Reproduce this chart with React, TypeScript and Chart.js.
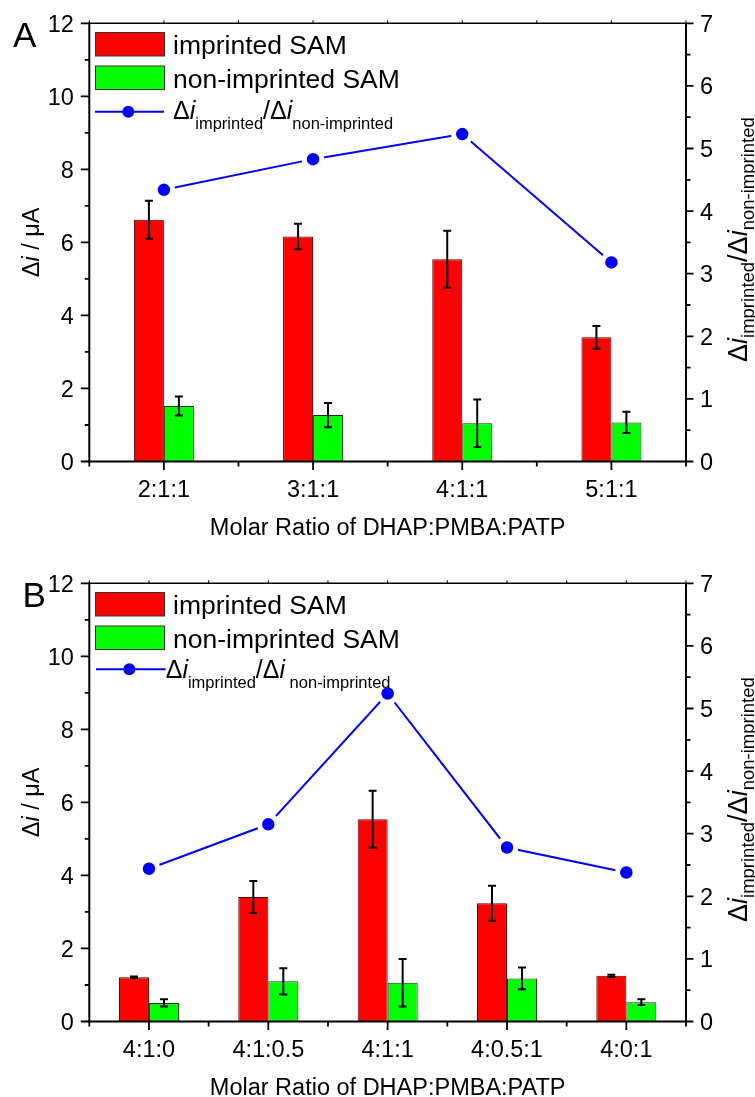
import React, { useEffect, useRef } from "react";
import { Chart, registerables } from "chart.js";
Chart.register(...registerables);

const FONT = "'Liberation Sans', Arial, Helvetica, sans-serif";

// ---- Panel A data ----
const catsA = ["2:1:1", "3:1:1", "4:1:1", "5:1:1"];
const imprintedA = [6.62, 6.16, 5.54, 3.4];
const imprintedErrA = [0.52, 0.35, 0.78, 0.31];
const nonImprintedA = [1.52, 1.27, 1.05, 1.07];
const nonImprintedErrA = [0.26, 0.33, 0.65, 0.29];
const ratioA = [4.34, 4.83, 5.23, 3.18];

// ---- Panel B data ----
const catsB = ["4:1:0", "4:1:0.5", "4:1:1", "4:0.5:1", "4:0:1"];
const imprintedB = [1.21, 3.41, 5.54, 3.24, 1.25];
const imprintedErrB = [0.02, 0.44, 0.78, 0.48, 0.03];
const nonImprintedB = [0.51, 1.1, 1.06, 1.18, 0.53];
const nonImprintedErrB = [0.1, 0.36, 0.65, 0.3, 0.08];
const ratioB = [2.44, 3.15, 5.24, 2.78, 2.38];

// ---- Axes ----
const leftTickValues = [0, 2, 4, 6, 8, 10, 12];
const leftMinorValues = [1, 3, 5, 7, 9, 11];
const rightTickValues = [0, 1, 2, 3, 4, 5, 6, 7];
const rightMinorValues = [0.5, 1.5, 2.5, 3.5, 4.5, 5.5, 6.5];
const xTitle = "Molar Ratio of DHAP:PMBA:PATP";
const legendImprinted = "imprinted SAM";
const legendNonImprinted = "non-imprinted SAM";

type Seg = { t: string; it?: boolean; sub?: boolean };

const ratioSegsA: Seg[] = [
  { t: "Δ" }, { t: "i", it: true }, { t: "imprinted", sub: true },
  { t: "/Δ" }, { t: "i", it: true }, { t: "non-imprinted", sub: true },
];
const ratioSegsB: Seg[] = [
  { t: "Δ" }, { t: "i", it: true }, { t: "imprinted", sub: true },
  { t: "/Δ" }, { t: "i", it: true }, { t: " non-imprinted", sub: true },
];
const axisSegs: Seg[] = [
  { t: "Δ" }, { t: "i", it: true }, { t: "imprinted", sub: true },
  { t: "/Δ" }, { t: "i", it: true }, { t: "non-imprinted", sub: true },
];
const leftTitleSegs: Seg[] = [{ t: "Δ" }, { t: "i", it: true }, { t: " / μA" }];

function richWidth(ctx: CanvasRenderingContext2D, segs: Seg[], main: number, sub: number) {
  let w = 0;
  for (const s of segs) {
    ctx.font = `${s.it ? "italic " : ""}${s.sub ? sub : main}px ${FONT}`;
    w += ctx.measureText(s.t).width;
  }
  return w;
}
function drawRich(ctx: CanvasRenderingContext2D, segs: Seg[], x: number, y: number, main: number, sub: number, subDy: number) {
  let cx = x;
  ctx.textAlign = "left";
  ctx.textBaseline = "alphabetic";
  for (const s of segs) {
    ctx.font = `${s.it ? "italic " : ""}${s.sub ? sub : main}px ${FONT}`;
    ctx.fillText(s.t, cx, s.sub ? y + subDy : y);
    cx += ctx.measureText(s.t).width;
  }
}

type PanelDef = {
  letter: string;
  letterX: number;
  cats: string[];
  imp: number[];
  impErr: number[];
  non: number[];
  nonErr: number[];
  ratio: number[];
  catPct: number;
  height: number;
  top: number;
  legLineX0: number;
  legLineX1: number;
  legLineY: number;
  legMarkX: number;
  legTextX: number;
  legTextY: number;
  ratioSegs: Seg[];
};

const panels: PanelDef[] = [
  {
    letter: "A", letterX: 13, cats: catsA, imp: imprintedA, impErr: imprintedErrA,
    non: nonImprintedA, nonErr: nonImprintedErrA, ratio: ratioA, catPct: 0.402,
    height: 560, top: 0, legLineX0: 95, legLineX1: 164, legLineY: 111.7, legMarkX: 128.3,
    legTextX: 173, legTextY: 119, ratioSegs: ratioSegsA,
  },
  {
    letter: "B", letterX: 22.5, cats: catsB, imp: imprintedB, impErr: imprintedErrB,
    non: nonImprintedB, nonErr: nonImprintedErrB, ratio: ratioB, catPct: 0.503,
    height: 537, top: 560, legLineX0: 96, legLineX1: 165.7, legLineY: 109.3, legMarkX: 129.3,
    legTextX: 165.7, legTextY: 118, ratioSegs: ratioSegsB,
  },
];

const PLOT_L = 89.3;
const PLOT_R = 686;
const PLOT_T = 23.3;
const PLOT_B = 461.5;

function makePlugin(p: PanelDef) {
  return {
    id: "decor" + p.letter,
    afterDatasetsDraw(chart: any) {
      const ctx: CanvasRenderingContext2D = chart.ctx;
      const ys = chart.scales.y;
      const sets: [number, number[]][] = [[1, p.impErr], [2, p.nonErr]];
      ctx.save();
      ctx.strokeStyle = "#000";
      ctx.lineWidth = 2;
      for (const [di, errs] of sets) {
        const meta = chart.getDatasetMeta(di);
        const vals = chart.data.datasets[di].data as number[];
        meta.data.forEach((el: any, i: number) => {
          const x = el.x;
          const y1 = ys.getPixelForValue(vals[i] + errs[i]);
          const y2 = ys.getPixelForValue(vals[i] - errs[i]);
          ctx.beginPath();
          ctx.moveTo(x, y1); ctx.lineTo(x, y2);
          ctx.moveTo(x - 4, y1); ctx.lineTo(x + 4, y1);
          ctx.moveTo(x - 4, y2); ctx.lineTo(x + 4, y2);
          ctx.stroke();
        });
      }
      ctx.restore();
    },
    afterDraw(chart: any) {
      const ctx: CanvasRenderingContext2D = chart.ctx;
      const { left: L, right: R, top: T, bottom: B } = chart.chartArea;
      const xs = chart.scales.x;
      const ys = chart.scales.y;
      const y2s = chart.scales.y2;
      ctx.save();
      ctx.strokeStyle = "#000";
      ctx.fillStyle = "#000";
      // frame
      ctx.lineWidth = 2;
      ctx.beginPath();
      ctx.moveTo(L, T); ctx.lineTo(L, B);
      ctx.moveTo(R, T); ctx.lineTo(R, B);
      ctx.moveTo(L - 1, B); ctx.lineTo(R + 1, B);
      ctx.stroke();
      ctx.lineWidth = 1.5;
      ctx.beginPath();
      ctx.moveTo(L, T); ctx.lineTo(R, T);
      ctx.stroke();
      // ticks
      ctx.lineWidth = 1.8;
      ctx.beginPath();
      for (const v of leftTickValues) {
        const py = ys.getPixelForValue(v);
        ctx.moveTo(L - 8.5, py); ctx.lineTo(L, py);
      }
      for (const v of leftMinorValues) {
        const py = ys.getPixelForValue(v);
        ctx.moveTo(L - 4.5, py); ctx.lineTo(L, py);
      }
      for (const v of rightTickValues) {
        const py = y2s.getPixelForValue(v);
        ctx.moveTo(R, py); ctx.lineTo(R + 7.5, py);
      }
      for (const v of rightMinorValues) {
        const py = y2s.getPixelForValue(v);
        ctx.moveTo(R, py); ctx.lineTo(R + 4.5, py);
      }
      for (let i = 0; i < p.cats.length; i++) {
        const px = xs.getPixelForValue(i);
        ctx.moveTo(px, B); ctx.lineTo(px, B + 8.5);
      }
      for (let i = 0; i <= p.cats.length; i++) {
        const px = xs.getPixelForValue(i - 0.5);
        ctx.moveTo(px, B); ctx.lineTo(px, B + 5);
      }
      ctx.stroke();
      ctx.lineWidth = 1;
      ctx.beginPath();
      for (let i = 0; i <= p.cats.length * 2; i++) {
        const px = xs.getPixelForValue(i / 2 - 0.5);
        ctx.moveTo(px, T); ctx.lineTo(px, T - 3);
      }
      ctx.stroke();

      // tick labels
      const TS = 23.5;
      ctx.font = `${TS}px ${FONT}`;
      ctx.textBaseline = "alphabetic";
      ctx.textAlign = "right";
      for (const v of leftTickValues) {
        ctx.fillText(String(v), L - 15.5, ys.getPixelForValue(v) + TS * 0.358);
      }
      ctx.textAlign = "left";
      for (const v of rightTickValues) {
        ctx.fillText(String(v), R + 14, y2s.getPixelForValue(v) + TS * 0.358);
      }
      ctx.textAlign = "center";
      p.cats.forEach((c, i) => {
        ctx.fillText(c, xs.getPixelForValue(i), B + 35.5);
      });
      ctx.fillText(xTitle, (L + R) / 2, B + 73.5);

      // left axis title
      ctx.save();
      const lw = richWidth(ctx, leftTitleSegs, 23.5, 23.5);
      ctx.translate(39, (T + B) / 2);
      ctx.rotate(-Math.PI / 2);
      drawRich(ctx, leftTitleSegs, -lw / 2, 0, 23.5, 23.5, 0);
      ctx.restore();

      // right axis title
      ctx.save();
      ctx.translate(747, 362);
      ctx.rotate(-Math.PI / 2);
      drawRich(ctx, axisSegs, 0, 0, 27, 18.5, 6.5);
      ctx.restore();

      // panel letter
      ctx.font = `35px ${FONT}`;
      ctx.textAlign = "left";
      ctx.fillText(p.letter, p.letterX, 46.7);

      // legend
      ctx.lineWidth = 1;
      ctx.strokeStyle = "#333";
      ctx.fillStyle = "#ff0000";
      ctx.fillRect(95, 32.5, 69, 23.5);
      ctx.strokeRect(95.5, 32.5, 69, 23.5);
      ctx.fillStyle = "#00ff00";
      ctx.fillRect(95, 66, 69, 23.5);
      ctx.strokeRect(95.5, 66, 69, 23.5);
      ctx.fillStyle = "#000";
      ctx.font = `26.5px ${FONT}`;
      ctx.fillText(legendImprinted, 173, 53.5);
      ctx.fillText(legendNonImprinted, 173, 87.5);
      ctx.strokeStyle = "#0000ff";
      ctx.lineWidth = 2;
      ctx.beginPath();
      ctx.moveTo(p.legLineX0, p.legLineY); ctx.lineTo(p.legLineX1, p.legLineY);
      ctx.stroke();
      ctx.fillStyle = "#0000ff";
      ctx.beginPath();
      ctx.arc(p.legMarkX, p.legLineY, 6, 0, Math.PI * 2);
      ctx.fill();
      ctx.fillStyle = "#000";
      drawRich(ctx, p.ratioSegs, p.legTextX, p.legTextY, 25, 16.5, 10);
      ctx.restore();
    },
  };
}

function PanelChart({ p }: { p: PanelDef }) {
  const ref = useRef<HTMLCanvasElement>(null);
  useEffect(() => {
    if (!ref.current) return;
    const chart = new Chart(ref.current, {
      type: "bar",
      data: {
        labels: p.cats,
        datasets: [
          {
            type: "line",
            label: "ratio",
            data: p.ratio,
            yAxisID: "y2",
            borderColor: "#0000ff",
            borderWidth: 2,
            pointRadius: 8.75,
            pointBorderWidth: 5,
            pointBackgroundColor: "#0000ff",
            pointBorderColor: "#ffffff",
            tension: 0,
            order: 0,
          } as any,
          {
            type: "bar",
            label: legendImprinted,
            data: p.imp,
            yAxisID: "y",
            backgroundColor: "#ff0000",
            borderColor: "#5a0000",
            borderWidth: 1,
            categoryPercentage: p.catPct,
            barPercentage: 1,
            order: 1,
          },
          {
            type: "bar",
            label: legendNonImprinted,
            data: p.non,
            yAxisID: "y",
            backgroundColor: "#00ff00",
            borderColor: "#0a3a0a",
            borderWidth: 1,
            categoryPercentage: p.catPct,
            barPercentage: 1,
            order: 1,
          },
        ],
      },
      options: {
        animation: false,
        responsive: false,
        maintainAspectRatio: false,
        layout: {
          padding: { left: PLOT_L, right: 755 - PLOT_R, top: PLOT_T, bottom: p.height - PLOT_B },
        },
        plugins: { legend: { display: false }, tooltip: { enabled: false } },
        scales: {
          x: { type: "category", display: false, offset: true },
          y: { type: "linear", display: false, min: 0, max: 12 },
          y2: { type: "linear", display: false, min: 0, max: 7, position: "right" },
        },
      },
      plugins: [makePlugin(p)],
    });
    return () => chart.destroy();
  }, [p]);
  return (
    <canvas
      ref={ref}
      width={755}
      height={p.height}
      style={{ position: "absolute", left: 0, top: p.top, width: 755, height: p.height, display: "block" }}
    />
  );
}

export default function App() {
  return (
    <div style={{ position: "absolute", left: 0, top: 0, width: 755, height: 1097, background: "#fff" }}>
      {panels.map((p) => (
        <PanelChart key={p.letter} p={p} />
      ))}
    </div>
  );
}
